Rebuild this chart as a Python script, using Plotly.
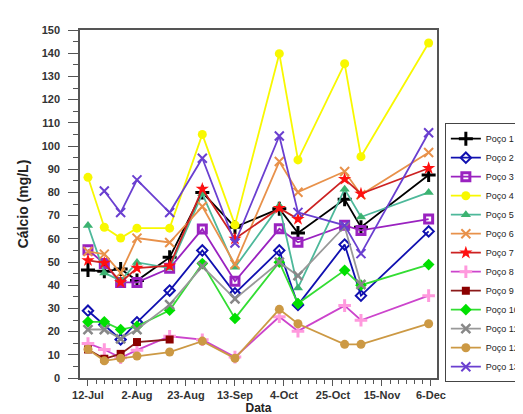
import plotly.graph_objects as go

dates = ['2012-07-12', '2012-07-19', '2012-07-26', '2012-08-02', '2012-08-16', '2012-08-30',
         '2012-09-13', '2012-10-02', '2012-10-10', '2012-10-30', '2012-11-06', '2012-12-05']

p1 = [46.5, 46, 47, 42, 52, 80, 65, 73, 62.5, 77, 65, 87.5]
p2 = [29, 23, 16.6, 24, 37.7, 55, 36.5, 55, 31.5, 57.5, 35.5, 63.2]
p3 = [55.3, 49.3, 41.2, 41.2, 47.3, 64.2, 41.7, 64.3, 58.5, 65.8, 63.6, 68.5]
p4 = [86.5, 65, 60.3, 64.6, 64.6, 105, 66, 139.8, 94, 135.5, 95.4, 144.4]
p5 = [65.7, 45.3, 42, 49.8, 47.4, 79.4, 47.7, 74.2, 38.8, 81.4, 69.4, 80]
p6 = [54.5, 53.4, 45.3, 60.3, 58.4, 73.9, 49, 93.3, 80.1, 89, 79, 97.2]
p7 = [50.7, 49.6, 41.2, 47.4, 48.4, 81.5, 60, 73.2, 68.5, 85.7, 79.4, 90.4]
p8 = [14.9, 12.3, 8.7, 12, 18, 16.5, 9, 26.4, 20.2, 31.2, 24.9, 35.5]
p9 = [12.3, 8.3, 10.4, 15.5, 16.6, None, None, None, None, None, None, None]
p10 = [24.2, 24.2, 20.9, 22.3, 29.2, 49.3, 25.7, 49.9, 32.1, 46.4, 40, 48.9]
p11 = [20.9, 20.9, 16.9, 20.9, 31.6, 48.1, 34.1, 49.9, 44.1, 65.3, 40.3, None]
p12 = [12.4, 7.4, 8.5, 9.5, 11.2, 15.9, 8.5, 29.6, 23.4, 14.5, 14.5, 23.4]
p13 = [None, 80.6, 71.3, 85.4, 71.3, 94.7, 58.2, 104.3, 71.4, 65.8, 53.6, 105.7]

names = ['Poço 1', 'Poço 2', 'Poço 3', 'Poço 4', 'Poço 5', 'Poço 6', 'Poço 7',
         'Poço 8', 'Poço 9', 'Poço 10', 'Poço 11', 'Poço 12', 'Poço 13']
series = [p1, p2, p3, p4, p5, p6, p7, p8, p9, p10, p11, p12, p13]

# (line colour, marker colour, symbol, size, marker line width)
styles = [
    ('#000000', '#000000', 'cross-thin', 10, 3),
    ('#1010b0', '#1010b0', 'diamond-open', 8, 2),
    ('#9a22c0', '#9a22c0', 'square-open', 8, 3),
    ('#f8f800', '#f8f800', 'circle', 9, 0),
    ('#4db89a', '#3cb371', 'triangle-up', 9, 0),
    ('#e8914a', '#e8914a', 'x-thin', 9, 2),
    ('#cc2222', '#ff1010', 'star', 10, 0),
    ('#cc44cc', '#ff99dd', 'cross-thin', 9, 3),
    ('#8b1a1a', '#8b0000', 'square', 8, 0),
    ('#33dd33', '#00e000', 'diamond', 9, 0),
    ('#999999', '#888888', 'x-thin', 9, 2.5),
    ('#cc9944', '#cc9944', 'circle', 9, 0),
    ('#6a3fd0', '#6a3fd0', 'x-thin', 9, 2),
]

fig = go.Figure()
for name, vals, (lc, mc, sym, sz, mlw) in zip(names, series, styles):
    marker = dict(color=mc, symbol=sym, size=sz)
    if mlw:
        marker['line'] = dict(color=mc, width=mlw)
    fig.add_trace(go.Scatter(
        x=dates, y=vals, name=name, mode='lines+markers',
        line=dict(color=lc, width=1.8), marker=marker,
    ))

fontfam = 'Liberation Sans, Arial, sans-serif'
fig.update_layout(
    width=523, height=414,
    margin=dict(l=72, r=94, t=22, b=44, autoexpand=False),
    paper_bgcolor='white', plot_bgcolor='white',
    font=dict(family=fontfam, color='#333333'),
    legend=dict(
        x=1.022, xanchor='left', y=0.36, yanchor='middle',
        font=dict(size=9, color='#222222', family=fontfam),
        bordercolor='#444444', borderwidth=1, bgcolor='white',
        itemwidth=30, tracegroupgap=0,
    ),
    showlegend=True,
)
fig.update_xaxes(
    type='date',
    range=['2012-07-08 14:00', '2012-12-08 14:00'],
    tick0='2012-07-12', dtick=21 * 86400000, tickformat='%-d-%b',
    ticks='outside', ticklen=6, tickwidth=1.3, tickcolor='#555555',
    minor=dict(ticks='outside', ticklen=4, dtick=3.5 * 86400000, tick0='2012-07-12',
               tickcolor='#555555', tickwidth=1),
    showline=True, linecolor='#555555', linewidth=1.6, mirror=True,
    showgrid=False, zeroline=False,
    tickfont=dict(size=11, color='#333333', family=fontfam, weight='bold'),
    title=dict(text='Data', font=dict(size=12, color='#222222', family=fontfam, weight='bold'),
               standoff=0),
)
fig.update_yaxes(
    range=[0, 150], dtick=10, tick0=0,
    ticks='outside', ticklen=10, tickwidth=1.3, tickcolor='#555555',
    minor=dict(ticks='outside', ticklen=5, dtick=5, tickcolor='#555555', tickwidth=1),
    showline=True, linecolor='#555555', linewidth=1.6, mirror=True,
    showgrid=False, zeroline=False, ticklabelstandoff=6,
    tickfont=dict(size=11, color='#333333', family=fontfam, weight='bold'),
    title=dict(text='Cálcio (mg/L)', font=dict(size=14, color='#222222', family=fontfam, weight='bold'),
               standoff=10),
)

fig.write_html('out.html')
